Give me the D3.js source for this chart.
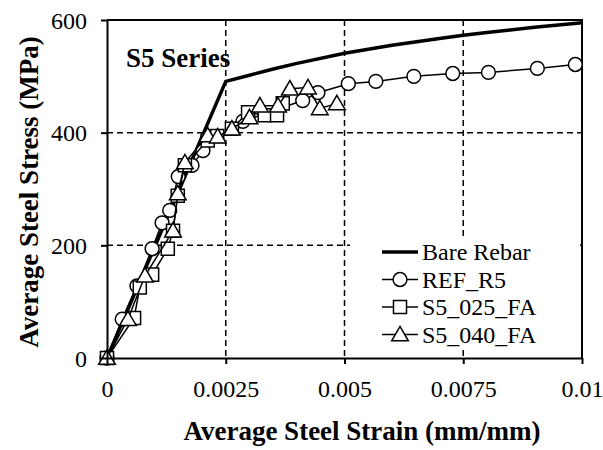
<!DOCTYPE html>
<meta charset="utf-8">
<style>
body { margin: 0; background: #fff; }
.grid line { stroke: #000; stroke-width: 1.5px; stroke-dasharray: 6,4; }
.axis path, .axis line { stroke: #000; stroke-width: 2px; }
.marker { fill: #fff; stroke: #000; stroke-width: 1.5px; }
</style>
<svg width="603" height="450"></svg>
<script src="https://cdnjs.cloudflare.com/ajax/libs/d3/7.8.5/d3.min.js"></script>
<script>

// values
var xTicks = [0, 0.0025, 0.005, 0.0075, 0.01],
    xTickLabels = ["0", "0.0025", "0.005", "0.0075", "0.01"],
    yTicks = [0, 200, 400, 600];

var bareStrain = [0, 0.0025, 0.003, 0.0035, 0.004, 0.005, 0.006, 0.007, 0.0075, 0.008, 0.009, 0.01],
    bareStress = [0, 491, 502, 513, 523, 541, 555, 567, 573, 578, 587, 595];

var refStrain = [0, 0.00032, 0.00063, 0.00095, 0.00116, 0.00132, 0.0015, 0.00179, 0.00202, 0.00286, 0.00412, 0.00444, 0.00508, 0.00566, 0.00646, 0.00728, 0.00803, 0.00906, 0.00986],
    refStress = [0, 69, 128, 194, 240, 262, 322, 342, 368, 420, 457, 471, 487, 491, 500, 505, 507, 514, 521];

var s025Strain = [0, 0.00057, 0.00069, 0.00095, 0.00128, 0.00139, 0.00149, 0.00164, 0.00212, 0.00232, 0.00263, 0.00297, 0.00332, 0.00358, 0.0037],
    s025Stress = [0, 71, 125, 148, 194, 226, 288, 342, 386, 394, 407, 436, 431, 431, 452];

var s040Strain = [0, 0.00044, 0.0008, 0.00139, 0.00149, 0.00164, 0.00212, 0.00233, 0.00263, 0.003, 0.00322, 0.0036, 0.00385, 0.00423, 0.00448, 0.00484],
    s040Stress = [0, 69, 146, 226, 292, 347, 395, 393, 407, 427, 448, 448, 478, 480, 443, 452];

var seriesNames = ["Bare Rebar", "REF_R5", "S5_025_FA", "S5_040_FA"];

var serif = "'Liberation Serif', 'Times New Roman', Times, serif";

function zip(a, b) { return a.map(function(v, i) { return {x: v, y: b[i]}; }); }

var series = [
  {name: seriesNames[0], values: zip(bareStrain, bareStress), symbol: null},
  {name: seriesNames[1], values: zip(refStrain, refStress), symbol: "circle"},
  {name: seriesNames[2], values: zip(s025Strain, s025Stress), symbol: "square"},
  {name: seriesNames[3], values: zip(s040Strain, s040Stress), symbol: "triangle"}
];

var svg = d3.select("svg"),
    margin = {top: 20, right: 21, bottom: 92, left: 107},
    width = 603 - margin.left - margin.right,
    height = 450 - margin.top - margin.bottom,
    g = svg.append("g").attr("transform", "translate(" + margin.left + "," + margin.top + ")");

var x = d3.scaleLinear().domain([0, 0.01]).range([0, width]),
    y = d3.scaleLinear().domain([0, 600]).range([height, 0]);

// dashed grid
g.append("g").attr("class", "grid")
  .selectAll("line").data(xTicks.slice(1, -1)).enter().append("line")
    .attr("x1", function(d) { return x(d); }).attr("x2", function(d) { return x(d); })
    .attr("y1", 0).attr("y2", height);
g.append("g").attr("class", "grid")
  .selectAll("line").data(yTicks.slice(1, -1)).enter().append("line")
    .attr("x1", 0).attr("x2", width)
    .attr("y1", function(d) { return y(d); }).attr("y2", function(d) { return y(d); });

// frame top/right
g.append("path").attr("d", "M0,0H" + width + "V" + height)
  .attr("fill", "none").attr("stroke", "#000").attr("stroke-width", 2);

// legend background hides grid underneath
var legend = g.append("g").attr("transform", "translate(" + (width - 232) + "," + (height - 118) + ")");
legend.append("rect").attr("width", 230).attr("height", 110).attr("fill", "#fff");

var line = d3.line().x(function(d) { return x(d.x); }).y(function(d) { return y(d.y); });

var symbolType = {circle: d3.symbolCircle, square: d3.symbolSquare, triangle: d3.symbolTriangle},
    symbolSize = {circle: 150, square: 170, triangle: 120};

function marker(sel, s) {
  sel.attr("class", "marker")
    .attr("d", d3.symbol().type(symbolType[s]).size(symbolSize[s]));
}

series.forEach(function(s) {
  g.append("path").datum(s.values)
    .style("fill", "none").style("stroke", "#000")
    .style("stroke-width", s.symbol ? "1.5px" : "3.5px")
    .attr("d", line);
  if (s.symbol) {
    g.append("g").selectAll("path").data(s.values).enter().append("path")
      .call(marker, s.symbol)
      .attr("transform", function(d) {
        return "translate(" + x(d.x) + "," + (y(d.y) + (s.symbol == "triangle" ? 1.5 : 0)) + ")";
      });
  }
});

// axes
g.append("g").attr("class", "axis")
  .attr("transform", "translate(0," + height + ")")
  .call(d3.axisBottom(x).tickValues(xTicks).tickSize(6).tickSizeOuter(0)
    .tickFormat(function(d, i) { return xTickLabels[i]; }))
  .call(function(a) { a.selectAll("text").attr("dy", 0).attr("y", 39); });

g.append("g").attr("class", "axis")
  .call(d3.axisLeft(y).tickValues(yTicks).tickSize(6).tickSizeOuter(0).tickPadding(14))
  .call(function(a) { a.selectAll("text").attr("dy", "0.34em"); });

g.selectAll(".axis").attr("font-family", null).attr("font-size", null);
g.selectAll(".axis text").style("font-family", serif).style("font-size", "24px").style("fill", "#000");

// legend entries
series.forEach(function(s, i) {
  var row = legend.append("g").attr("transform", "translate(0," + (12 + i * 27.5) + ")");
  row.append("line").attr("x1", 32).attr("x2", 68).attr("y1", 0).attr("y2", 0)
    .style("stroke", "#000").style("stroke-width", s.symbol ? "1.5px" : "3.5px");
  if (s.symbol) {
    row.append("path").call(marker, s.symbol)
      .attr("transform", "translate(50," + (s.symbol == "triangle" ? 1.5 : 0) + ")");
  }
  row.append("text").attr("x", 72).attr("dy", "0.34em")
    .style("font-family", serif).style("font-size", "24px").text(s.name);
});

// labels
g.append("text").attr("x", 19).attr("y", 47)
  .style("font-family", serif).style("font-size", "27px").style("font-weight", "bold")
  .text("S5 Series");

svg.append("text")
  .attr("x", 362).attr("y", 440)
  .attr("text-anchor", "middle")
  .style("font-family", serif).style("font-size", "27px").style("font-weight", "bold")
  .text("Average Steel Strain (mm/mm)");

svg.append("text")
  .attr("transform", "translate(38," + 192 + ") rotate(-90)")
  .attr("text-anchor", "middle")
  .style("font-family", serif).style("font-size", "27px").style("font-weight", "bold")
  .text("Average Steel Stress (MPa)");

</script>
